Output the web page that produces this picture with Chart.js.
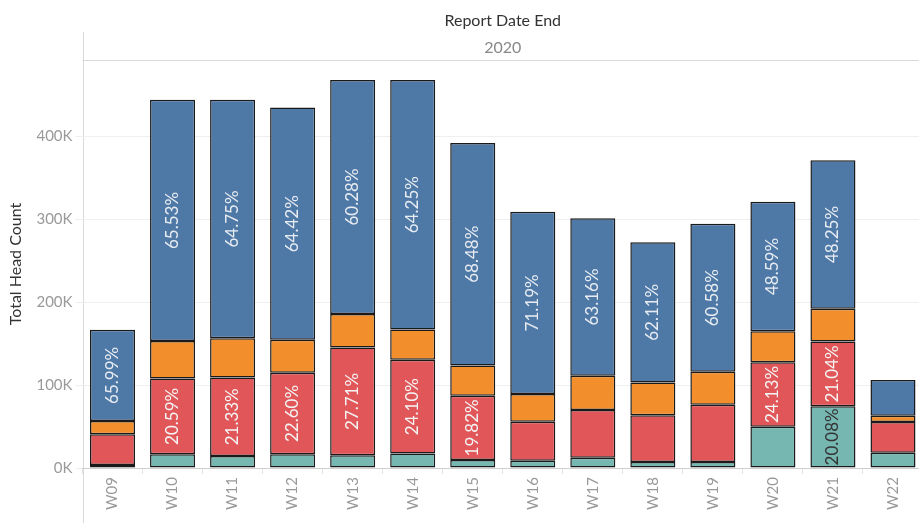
<!DOCTYPE html>
<html>
<head>
<meta charset="utf-8">
<script src="https://cdn.jsdelivr.net/npm/chart.js@4.4.1/dist/chart.umd.min.js"></script>
<style>
  html, body { margin: 0; padding: 0; background: #fff; overflow: hidden; }
  #wrap { width: 923px; height: 523px; position: relative; }
</style>
</head>
<body>
<div id="wrap"><canvas id="chart"></canvas></div>
<script>
// weeks of 2020
const weeks = ['W09','W10','W11','W12','W13','W14','W15','W16','W17','W18','W19','W20','W21','W22'];

// head counts (thousands), stacked bottom to top
const tealVals   = [3.6, 16.6, 14.4, 16.6, 15.5, 17.5, 9.5, 8.8, 12.4, 7.2, 7.2, 49.8, 74.5, 18.4];
const redVals    = [37.0, 91.4, 94.7, 98.2, 129.7, 112.9, 77.7, 47.0, 57.5, 56.3, 69.1, 77.6, 78.1, 37.0];
const orangeVals = [16.0, 45.0, 47.4, 39.8, 40.5, 36.7, 36.4, 33.4, 41.3, 39.7, 39.7, 37.4, 39.4, 7.6];
const blueVals   = [110.2, 291.0, 287.5, 280.0, 282.3, 300.9, 268.4, 219.8, 190.0, 169.1, 178.6, 156.3, 179.1, 43.0];

// percent labels shown on the bars (null = not shown)
const tealLabels   = [null, null, null, null, null, null, null, null, null, null, null, null, 20.08, null];
const redLabels    = [null, 20.59, 21.33, 22.60, 27.71, 24.10, 19.82, null, null, null, null, 24.13, 21.04, null];
const orangeLabels = [null, null, null, null, null, null, null, null, null, null, null, null, null, null];
const blueLabels   = [65.99, 65.53, 64.75, 64.42, 60.28, 64.25, 68.48, 71.19, 63.16, 62.11, 60.58, 48.59, 48.25, null];

const yTicks = [0, 100000, 200000, 300000, 400000];

const FONT = 'Lato, "Open Sans", sans-serif';

function k(arr) { return arr.map(v => v * 1000); }

// header ("Report Date End" / "2020") and frame lines
const headerPlugin = {
  id: 'header',
  beforeDraw(chart) {
    const ctx = chart.ctx, a = chart.chartArea;
    ctx.save();
    ctx.strokeStyle = '#d9d9d9';
    ctx.lineWidth = 1;
    ctx.beginPath();
    ctx.moveTo(Math.round(a.left) + 0.5, 32);
    ctx.lineTo(Math.round(a.left) + 0.5, 523);
    ctx.moveTo(a.left, Math.round(a.top) + 0.5);
    ctx.lineTo(chart.width, Math.round(a.top) + 0.5);
    ctx.stroke();
    const cx = (a.left + a.right) / 2;
    ctx.textAlign = 'center';
    ctx.textBaseline = 'middle';
    ctx.fillStyle = '#333';
    ctx.font = '16px ' + FONT;
    ctx.fillText('Report Date End', cx, 21);
    ctx.fillStyle = '#888';
    ctx.font = '16px ' + FONT;
    ctx.fillText('2020', cx, 48);
    ctx.restore();
  }
};

// rotated percent labels centred in each segment
const labelPlugin = {
  id: 'segLabels',
  afterDatasetsDraw(chart) {
    const ctx = chart.ctx;
    ctx.save();
    ctx.font = '17px ' + FONT;
    ctx.textAlign = 'center';
    ctx.textBaseline = 'middle';
    chart.data.datasets.forEach((ds, i) => {
      const meta = chart.getDatasetMeta(i);
      meta.data.forEach((bar, j) => {
        const lab = ds.pctLabels[j];
        if (lab == null) return;
        const y = (bar.y + bar.base) / 2;
        ctx.save();
        ctx.translate(bar.x, y);
        ctx.rotate(-Math.PI / 2);
        ctx.fillStyle = ds.labelColor;
        ctx.fillText(lab.toFixed(2) + '%', 0, 0);
        ctx.restore();
      });
    });
    ctx.restore();
  }
};

new Chart(document.getElementById('chart'), {
  type: 'bar',
  data: {
    labels: weeks,
    datasets: [
      { label: 'Teal', data: k(tealVals), backgroundColor: '#76b7b2', pctLabels: tealLabels, labelColor: '#333' },
      { label: 'Red', data: k(redVals), backgroundColor: '#e15759', pctLabels: redLabels, labelColor: '#f4f4f4' },
      { label: 'Orange', data: k(orangeVals), backgroundColor: '#f28e2b', pctLabels: orangeLabels, labelColor: '#f4f4f4' },
      { label: 'Blue', data: k(blueVals), backgroundColor: '#4e79a7', pctLabels: blueLabels, labelColor: '#e8ecf2' }
    ].map(d => Object.assign(d, {
      borderColor: '#1a1a1a',
      borderWidth: 1.5,
      borderSkipped: false,
      categoryPercentage: 1,
      barPercentage: 0.75
    }))
  },
  options: {
    responsive: true,
    maintainAspectRatio: false,
    animation: false,
    layout: { padding: { top: 60, left: 0, right: 0, bottom: 0 } },
    plugins: {
      legend: { display: false },
      tooltip: { enabled: false }
    },
    scales: {
      x: {
        stacked: true,
        offset: true,
        grid: { offset: true, drawOnChartArea: false, tickLength: 6, color: '#e3e3e3' },
        border: { display: true, color: '#cfcfcf' },
        ticks: {
          autoSkip: false,
          minRotation: 90,
          maxRotation: 90,
          padding: 3,
          color: '#999',
          font: { family: FONT, size: 15 }
        },
        afterFit(scale) { scale.height = 55; }
      },
      y: {
        stacked: true,
        min: 0,
        max: 492000,
        grid: { color: '#efefef', tickLength: 7 },
        border: { display: false },
        ticks: {
          padding: 3,
          color: '#999',
          font: { family: FONT, size: 15 },
          callback: v => (v / 1000) + 'K'
        },
        afterBuildTicks(scale) {
          scale.ticks = yTicks.map(v => ({ value: v }));
        },
        title: {
          display: true,
          text: 'Total Head Count',
          color: '#333',
          font: { family: FONT, size: 16 },
          padding: { top: 6, bottom: 0 }
        },
        afterFit(scale) { scale.width = 82.5; }
      }
    }
  },
  plugins: [headerPlugin, labelPlugin]
});
</script>
</body>
</html>
